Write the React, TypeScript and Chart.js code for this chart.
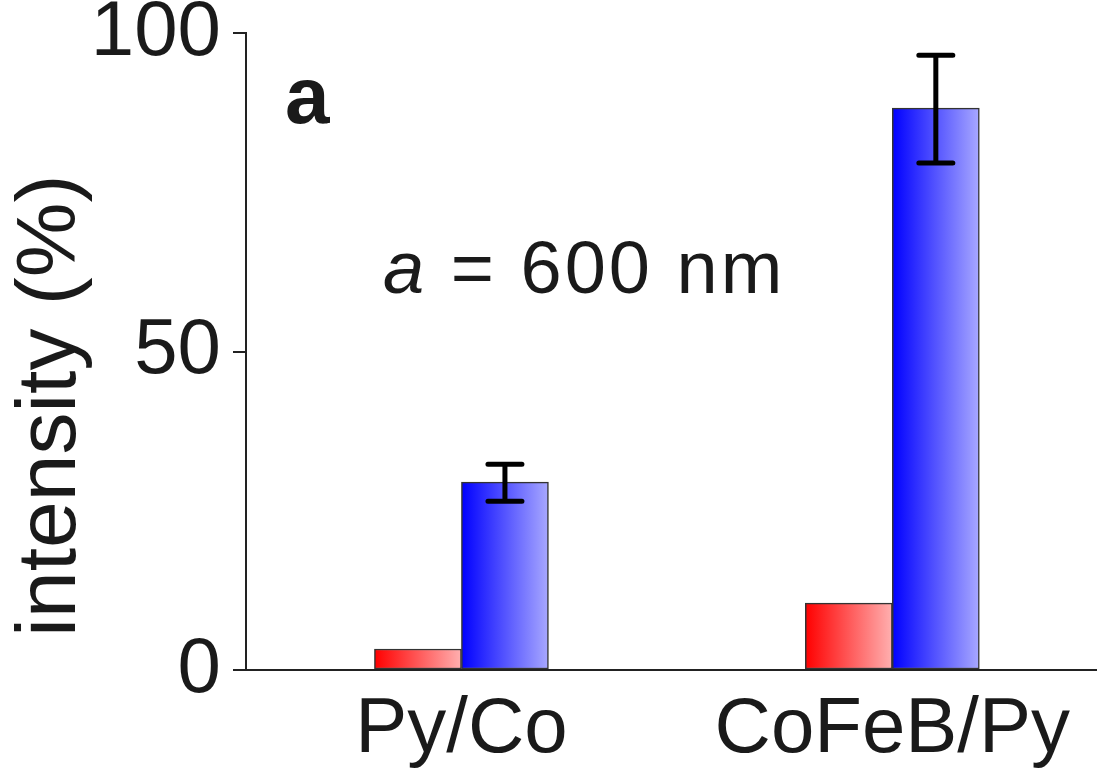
import React, { useEffect, useRef } from "react";
import { Chart, registerables } from "chart.js";

Chart.register(...registerables);

const categories = ["Py/Co", "CoFeB/Py"];
const redValues = [3.3, 10.5];
const blueValues = [29.5, 88.2];
const blueErrLow = [26.5, 79.6];
const blueErrHigh = [32.3, 96.5];
const yTicks = [0, 50, 100];

const FONT = "'Liberation Sans', Arial, Helvetica, sans-serif";
const INK = "#1a1a1a";
const BAR_W = 87;

function gradientFor(ctx: any, side: "left" | "right", c0: string, c1: string) {
  const chart = ctx.chart;
  const xs = chart.scales?.x;
  if (!xs || !chart.chartArea) return c0;
  const center = xs.getPixelForValue(ctx.dataIndex + 1);
  const x0 = side === "left" ? center - BAR_W : center;
  const x1 = x0 + BAR_W;
  const g = chart.ctx.createLinearGradient(x0, 0, x1, 0);
  g.addColorStop(0, c0);
  g.addColorStop(1, c1);
  return g;
}

const errorBarPlugin = {
  id: "errorBars",
  afterDatasetsDraw(chart: any) {
    const meta = chart.getDatasetMeta(1);
    const ys = chart.scales.y;
    const c = chart.ctx;
    c.save();
    c.strokeStyle = "#000";
    c.lineWidth = 5;
    c.lineCap = "round";
    meta.data.forEach((el: any, i: number) => {
      const x = el.x;
      const yh = ys.getPixelForValue(blueErrHigh[i]);
      const yl = ys.getPixelForValue(blueErrLow[i]);
      c.beginPath();
      c.moveTo(x, yh);
      c.lineTo(x, yl);
      c.moveTo(x - 17, yh);
      c.lineTo(x + 17, yh);
      c.moveTo(x - 17, yl);
      c.lineTo(x + 17, yl);
      c.stroke();
    });
    c.restore();
  },
};

const textPlugin = {
  id: "texts",
  afterDraw(chart: any) {
    const c = chart.ctx;
    const area = chart.chartArea;
    c.save();
    c.fillStyle = INK;
    // y-axis title
    c.save();
    c.translate(75, area.top + (area.bottom - area.top) * 0.585);
    c.rotate(-Math.PI / 2);
    c.font = `84px ${FONT}`;
    c.textAlign = "center";
    c.textBaseline = "alphabetic";
    c.fillText("intensity (%)", 0, 0);
    c.restore();
    // panel label
    c.font = `bold 80px ${FONT}`;
    c.textAlign = "left";
    c.textBaseline = "alphabetic";
    c.fillText("a", 285, 123);
    // annotation
    c.font = `italic 74px ${FONT}`;
    (c as any).letterSpacing = "3px";
    c.fillText("a", 383, 293);
    const w = c.measureText("a").width;
    c.font = `74px ${FONT}`;
    c.fillText(" = 600 nm", 383 + w, 293);
    c.restore();
  },
};

export default function App() {
  const ref = useRef<HTMLCanvasElement | null>(null);
  useEffect(() => {
    if (!ref.current) return;
    const chart = new Chart(ref.current, {
      type: "bar",
      data: {
        datasets: [
          {
            label: "red",
            data: redValues.map((v, i) => ({ x: i + 1, y: v })),
            backgroundColor: (ctx: any) => gradientFor(ctx, "left", "#ff0000", "#ffb0b0"),
            borderColor: "#333",
            borderWidth: 1.5,
            borderSkipped: false,
            barThickness: BAR_W,
          },
          {
            label: "blue",
            data: blueValues.map((v, i) => ({ x: i + 1, y: v })),
            backgroundColor: (ctx: any) => gradientFor(ctx, "right", "#0000ff", "#a8a8ff"),
            borderColor: "#333",
            borderWidth: 1.5,
            borderSkipped: false,
            barThickness: BAR_W,
          },
        ],
      },
      options: {
        animation: false,
        responsive: true,
        maintainAspectRatio: false,
        layout: { padding: { top: 33, left: 0, right: 0, bottom: 0 } },
        plugins: { legend: { display: false }, tooltip: { enabled: false } },
        scales: {
          x: {
            type: "linear",
            offset: false,
            min: 0.5,
            max: 2.475,
            afterBuildTicks: (scale: any) => {
              scale.ticks = categories.map((_, i) => ({ value: i + 1 }));
            },
            afterFit: (scale: any) => {
              scale.height = 104;
              scale.paddingLeft = 0;
              scale.paddingRight = 0;
            },
            grid: { display: true, drawOnChartArea: false, drawTicks: false, offset: false },
            border: { display: true, color: "#222", width: 2 },
            ticks: {
              autoSkip: false,
              maxRotation: 0,
              padding: 14,
              color: INK,
              font: { family: FONT, size: 78 },
              callback: (v: any) => categories[Number(v) - 1] ?? "",
            },
          },
          y: {
            min: 0,
            max: 100,
            afterBuildTicks: (scale: any) => {
              scale.ticks = yTicks.map((v) => ({ value: v }));
            },
            afterFit: (scale: any) => {
              scale.width = 246;
              scale.paddingTop = 0;
              scale.paddingBottom = 0;
            },
            grid: { drawOnChartArea: false, drawTicks: true, tickLength: 13, color: "#222", lineWidth: 2 },
            border: { display: true, color: "#222", width: 2 },
            ticks: {
              padding: 12,
              color: INK,
              font: { family: FONT, size: 78 },
            },
          },
        },
      },
      plugins: [errorBarPlugin, textPlugin],
    });
    return () => chart.destroy();
  }, []);
  return (
    <div style={{ position: "absolute", left: 0, top: 0, width: 1097, height: 774, background: "#fff" }}>
      <canvas ref={ref} />
    </div>
  );
}
